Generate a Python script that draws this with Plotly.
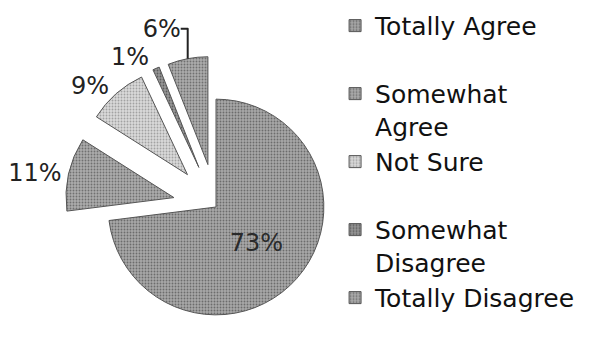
import plotly.graph_objects as go

categories = ["Totally Agree", "Somewhat Agree", "Not Sure", "Somewhat Disagree", "Totally Disagree"]
legend_names = ["Totally Agree<br> ", "Somewhat<br>Agree", "Not Sure<br> ", "Somewhat<br>Disagree", "Totally Disagree"]
values = [73, 11, 9, 1, 6]
base_colors = ["#a8a8a8", "#acacac", "#dadada", "#969696", "#acacac"]
dot_colors = ["#6c6c6c", "#707070", "#a2a2a2", "#5c5c5c", "#707070"]
pulls = [0, 0.4, 0.4, 0.4, 0.4]
text_positions = ["inside", "outside", "outside", "outside", "outside"]

W, H = 592, 358
cx, cy, half = 216, 207, 151

fig = go.Figure(go.Pie(
    labels=legend_names,
    values=values,
    sort=False,
    direction="clockwise",
    rotation=0,
    pull=pulls,
    automargin=False,
    textinfo="percent",
    texttemplate="%{percent:.0%}",
    textposition=text_positions,
    insidetextfont=dict(family="DejaVu Sans", size=24, color="#2a2a2a"),
    outsidetextfont=dict(family="DejaVu Sans", size=24, color="#222222"),
    marker=dict(
        colors=base_colors,
        line=dict(color="#555555", width=1),
        pattern=dict(shape=".", bgcolor=base_colors, fgcolor=dot_colors,
                     size=3, solidity=0.3, fillmode="replace"),
    ),
    domain=dict(x=[(cx - half) / W, (cx + half) / W],
                y=[max(0, 1 - (cy + half) / H), 1 - (cy - half) / H]),
    hoverinfo="label+percent",
))

fig.update_layout(
    width=W, height=H,
    autosize=False,
    margin=dict(l=0, r=0, t=0, b=0, pad=0, autoexpand=False),
    paper_bgcolor="white",
    plot_bgcolor="white",
    showlegend=True,
    legend=dict(
        x=0.566, y=0.992, xanchor="left", yanchor="top",
        font=dict(family="DejaVu Sans", size=25, color="#111111"),
        valign="top",
        tracegroupgap=0,
        bgcolor="rgba(0,0,0,0)",
    ),
)

fig.write_html("out.html", config=dict(displayModeBar=False),
               post_script="document.body.style.margin='0';")
